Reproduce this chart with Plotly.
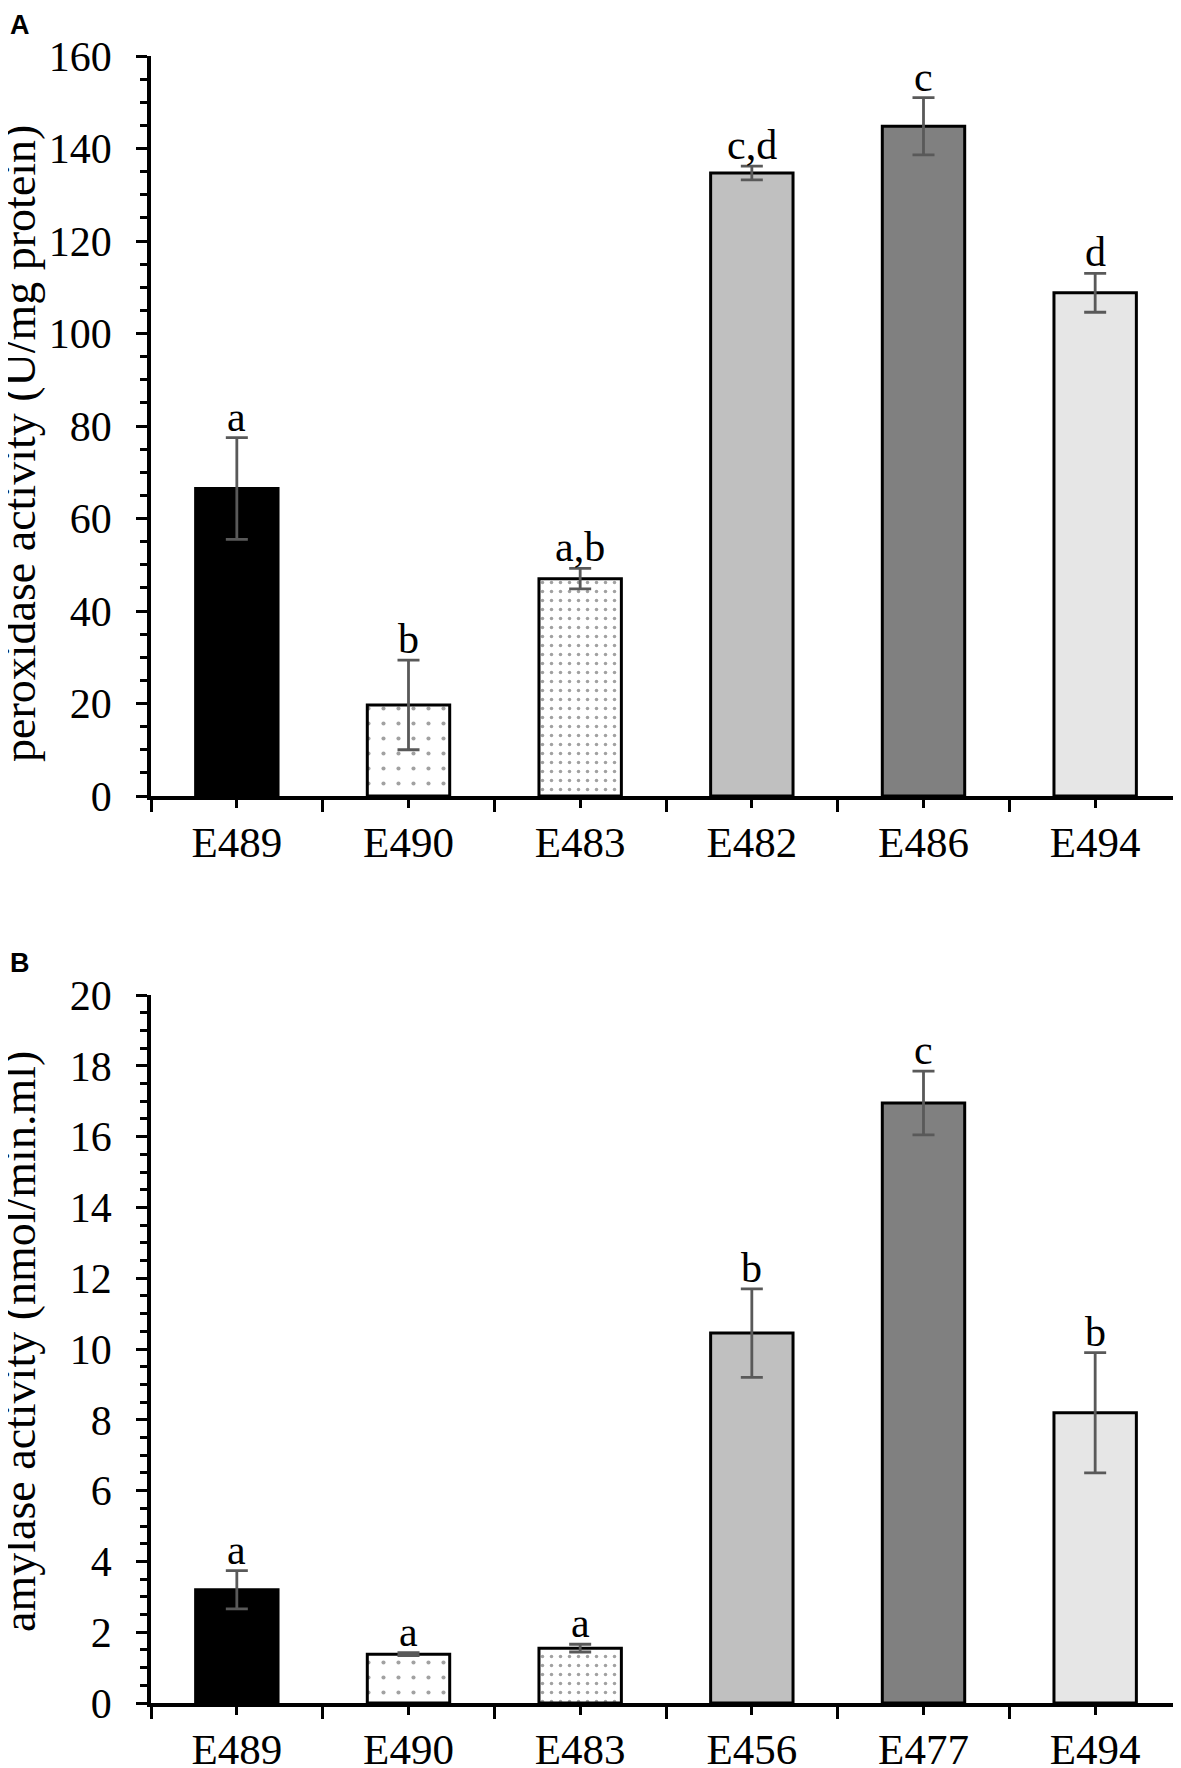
import plotly.graph_objects as go

# the page puts the figure 8px in from the top-left corner
OFF = 8
W, H = 1181 - OFF, 1768 - OFF

# panel A: peroxidase
cats_a = ["E489", "E490", "E483", "E482", "E486", "E494"]
vals_a = [66.5, 19.7, 47.0, 134.7, 144.8, 108.8]
errs_a = [11.0, 9.7, 2.2, 1.5, 6.2, 4.2]
letters_a = ["a", "b", "a,b", "c,d", "c", "d"]

# panel B: amylase
cats_b = ["E489", "E490", "E483", "E456", "E477", "E494"]
vals_b = [3.2, 1.38, 1.55, 10.45, 16.95, 8.2]
errs_b = [0.54, 0.04, 0.11, 1.25, 0.9, 1.7]
letters_b = ["a", "a", "a", "b", "c", "b"]

fills = ["#000000", "#ffffff", "#ffffff", "#c0c0c0", "#808080", "#e6e6e6"]
shapes = ["", ".", ".", "", "", ""]
psize = [8, 15, 9, 8, 8, 8]
psolid = [0.2, 0.06, 0.12, 0.2, 0.2, 0.2]

SERIF = "Times New Roman, Liberation Serif, serif"


def py(page_y):
    # page pixel row -> paper fraction
    return 1 - (page_y - OFF) / H


def px(page_x):
    return (page_x - OFF) / W


fig = go.Figure()

panels = [
    ("", "y", cats_a, vals_a, errs_a, letters_a, (py(796), py(56)), [0, 160], 20, 5),
    ("2", "y2", cats_b, vals_b, errs_b, letters_b, (py(1703), py(995)), [0, 20], 2, 0.5),
]

for sfx, yname, cats, vals, errs, letters, dom, rng, dt, mdt in panels:
    xs = list(range(len(cats)))
    fig.add_trace(
        go.Bar(
            x=xs,
            y=vals,
            width=0.48,
            xaxis="x" + sfx,
            yaxis=yname,
            marker=dict(
                color=fills,
                line=dict(color="black", width=3),
                pattern=dict(
                    shape=shapes,
                    fgcolor="#7a7a7a",
                    bgcolor="#ffffff",
                    size=psize,
                    solidity=psolid,
                    fillmode="overlay",
                ),
            ),
            error_y=dict(type="data", array=errs, color="#595959", thickness=2.8, width=11),
            showlegend=False,
        )
    )
    for xi, v, e, t in zip(xs, vals, errs, letters):
        fig.add_annotation(
            x=xi,
            y=v + e,
            xref="x" + sfx,
            yref=yname,
            text=t,
            showarrow=False,
            yanchor="bottom",
            yshift=-4,
            font=dict(family=SERIF, size=42, color="black"),
        )
    xaxis = dict(
        domain=[px(151), 1.0],
        anchor=yname,
        range=[-0.5, len(cats) - 0.5],
        tickvals=xs,
        ticktext=cats,
        ticks="outside",
        ticklen=8,
        tickwidth=3,
        tickcolor="black",
        showline=True,
        linewidth=3.5,
        linecolor="black",
        showgrid=False,
        zeroline=False,
        automargin=False,
        ticklabelstandoff=-2,
        tickfont=dict(family=SERIF, size=43, color="black"),
        minor=dict(tick0=-0.5, dtick=1, ticks="outside", ticklen=12, tickwidth=3, tickcolor="black"),
    )
    yaxis = dict(
        domain=list(dom),
        anchor="x" + sfx,
        range=rng,
        dtick=dt,
        ticks="outside",
        ticklen=11,
        tickwidth=3,
        tickcolor="black",
        showline=True,
        linewidth=3.5,
        linecolor="black",
        showgrid=False,
        zeroline=False,
        automargin=False,
        ticklabelstandoff=16,
        tickfont=dict(family=SERIF, size=42, color="black"),
        minor=dict(dtick=mdt, ticks="outside", ticklen=7, tickwidth=3, tickcolor="black"),
    )
    fig.update_layout({"xaxis" + sfx: xaxis, "yaxis" + sfx: yaxis})

# axis titles
for text, yc in [
    ("peroxidase activity (U/mg protein)", py(444)),
    ("amylase activity (nmol/min.ml)", py(1342)),
]:
    fig.add_annotation(
        x=px(19), y=yc, xref="paper", yref="paper", text=text, showarrow=False,
        xanchor="center", yanchor="middle",
        textangle=-90, font=dict(family=SERIF, size=46, color="black"),
    )

# panel letters
for text, yt in [("A", 8), ("B", 946)]:
    fig.add_annotation(
        x=0, y=py(yt), xref="paper", yref="paper", text="<b>%s</b>" % text,
        showarrow=False, xanchor="left", yanchor="top",
        font=dict(family="Liberation Sans, Arial, sans-serif", size=27, color="black"),
    )

fig.update_layout(
    width=W,
    height=H,
    margin=dict(l=0, r=0, t=0, b=0, pad=0, autoexpand=False),
    plot_bgcolor="white",
    paper_bgcolor="white",
    bargap=0.52,
)

fig.write_html("out.html")
